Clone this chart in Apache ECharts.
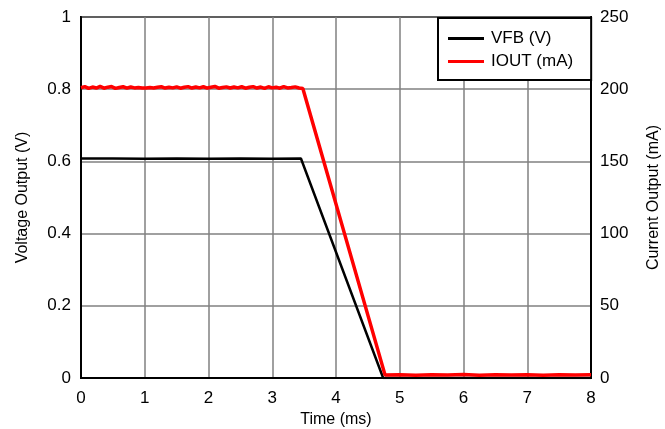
<!DOCTYPE html>
<html>
<head>
<meta charset="utf-8">
<script src="https://cdn.jsdelivr.net/npm/echarts@6/dist/echarts.min.js"></script>
<style>html,body{margin:0;padding:0;background:#fff}#c{width:665px;height:429px}</style>
</head>
<body>
<div id="c"></div>
<script>
var xTicks = [0,1,2,3,4,5,6,7,8];
var vTicks = [0,0.2,0.4,0.6,0.8,1];
var iTicks = [0,50,100,150,200,250];

var vfbTime = [0, 0.5, 1.0, 1.5, 2.0, 2.5, 3.0, 3.45, 4.74, 5.5, 6.5, 8.0];
var vfbVal  = [0.608, 0.608, 0.607, 0.608, 0.607, 0.608, 0.607, 0.608, 0.0, 0.0, 0.0, 0.0];

var ioutTime = [0, 0.06, 0.12, 0.18, 0.24, 0.3, 0.36, 0.42, 0.48, 0.54, 0.6, 0.66, 0.72, 0.78, 0.84, 0.9, 0.96, 1.02, 1.08, 1.14, 1.2, 1.26, 1.32, 1.38, 1.44, 1.5, 1.56, 1.62, 1.68, 1.74, 1.8, 1.86, 1.92, 1.98, 2.04, 2.1, 2.16, 2.22, 2.28, 2.34, 2.4, 2.46, 2.52, 2.58, 2.64, 2.7, 2.76, 2.82, 2.88, 2.94, 3.0, 3.06, 3.12, 3.18, 3.24, 3.3, 3.36, 3.42, 3.48, 4.77, 5.0, 5.25, 5.5, 5.75, 6.0, 6.25, 6.5, 6.75, 7.0, 7.25, 7.5, 7.75, 8.0];
var ioutVal  = [201, 201.8, 200.6, 201.5, 200.8, 201.9, 200.7, 201.4, 201.8, 200.6, 201.2, 201.7, 200.7, 201.5, 200.9, 201.2, 200.8, 200.9, 201.1, 200.8, 201.3, 201.7, 200.8, 201.4, 200.9, 201.6, 200.7, 201.3, 201.8, 200.8, 201.5, 200.9, 201.7, 200.8, 201.4, 201.9, 200.7, 201.2, 201.6, 200.8, 201.5, 200.9, 201.7, 200.7, 201.3, 201.8, 200.8, 201.5, 200.6, 201.7, 200.9, 201.4, 200.7, 201.8, 200.9, 201.2, 201.6, 200.8, 200.5, 2, 2.3, 1.9, 2.2, 2.1, 2.4, 1.9, 2.2, 2.0, 2.3, 1.9, 2.2, 2.1, 2.2];

function pairs(t, v){ return t.map(function(x,i){ return [x, v[i]]; }); }

var chart = echarts.init(document.getElementById('c'), null, {renderer:'canvas'});
var font = 'Liberation Sans, Arial, sans-serif';
chart.setOption({
  animation:false,
  backgroundColor:'#fff',
  grid:{left:81, right:74, top:17, bottom:51, show:true, borderColor:'#000', borderWidth:2, containLabel:false, outerBoundsMode:'none'},
  legend:{
    data:['VFB (V)','IOUT (mA)'], orient:'vertical', left:438, top:18,
    backgroundColor:'#fff', borderColor:'#000', borderWidth:2,
    padding:[12,18,10,10], itemGap:6, itemWidth:36, itemHeight:3, icon:'rect',
    textStyle:{fontFamily:font, fontSize:17, color:'#000', padding:[0,0,0,2]}
  },
  xAxis:{
    type:'value', min:0, max:8, interval:1,
    name:'Time (ms)', nameLocation:'middle', nameGap:28,
    nameTextStyle:{fontFamily:font, fontSize:16, color:'#000'},
    axisLine:{show:true, lineStyle:{color:'#000', width:2}},
    axisTick:{show:false},
    axisLabel:{fontFamily:font, fontSize:17, color:'#000', margin:12},
    splitLine:{show:true, lineStyle:{color:'#808080', width:1.5}}
  },
  yAxis:[{
    type:'value', min:0, max:1, interval:0.2,
    name:'Voltage Output (V)', nameLocation:'middle', nameGap:50, nameRotate:90,
    nameTextStyle:{fontFamily:font, fontSize:16, color:'#000'},
    axisLine:{show:true, lineStyle:{color:'#000', width:2}},
    axisTick:{show:false},
    axisLabel:{fontFamily:font, fontSize:17, color:'#000', margin:10, formatter:function(v){return String(+v.toFixed(1));}},
    splitLine:{show:true, lineStyle:{color:'#808080', width:1.5}}
  },{
    type:'value', min:0, max:250, interval:50, position:'right',
    name:'Current Output (mA)', nameLocation:'middle', nameGap:55, nameRotate:90,
    nameTextStyle:{fontFamily:font, fontSize:16, color:'#000'},
    axisLine:{show:true, lineStyle:{color:'#000', width:2}},
    axisTick:{show:false},
    axisLabel:{fontFamily:font, fontSize:17, color:'#000', margin:9},
    splitLine:{show:false}
  }],
  series:[{
    name:'VFB (V)', type:'line', yAxisIndex:0, data:pairs(vfbTime, vfbVal),
    showSymbol:false, symbol:'none', itemStyle:{color:'#000'}, lineStyle:{color:'#000', width:2.5}, z:3
  },{
    name:'IOUT (mA)', type:'line', yAxisIndex:1, data:pairs(ioutTime, ioutVal),
    showSymbol:false, symbol:'none', itemStyle:{color:'#ff0000'}, lineStyle:{color:'#ff0000', width:3.5}, z:4
  }]
});
</script>
</body>
</html>
